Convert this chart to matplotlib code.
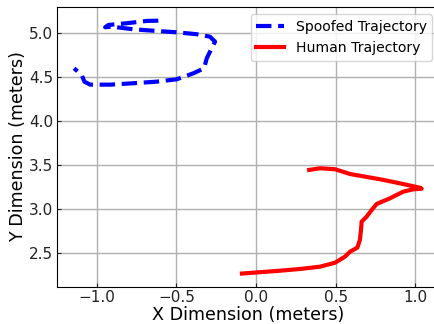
import numpy as np
import matplotlib
matplotlib.use("Agg")
from matplotlib import pyplot as plt

# spoofed trajectory
spoof_x = [-0.613, -0.686, -0.811, -0.927, -0.947, -0.905, -0.770, -0.623, -0.498,
           -0.372, -0.289, -0.257, -0.278, -0.309, -0.326, -0.393, -0.498, -0.623,
           -0.770, -0.916, -1.041, -1.077, -1.094, -1.142]
spoof_y = [5.143, 5.140, 5.114, 5.094, 5.068, 5.075, 5.045, 5.026, 5.011,
           4.989, 4.961, 4.905, 4.830, 4.716, 4.602, 4.545, 4.477, 4.450,
           4.432, 4.416, 4.416, 4.450, 4.526, 4.602]

# human trajectory
human_x = [0.334, 0.402, 0.496, 0.590, 0.778, 0.903, 1.029, 1.040, 0.987, 0.924,
           0.841, 0.757, 0.726, 0.694, 0.663, 0.659, 0.652, 0.636, 0.590, 0.558,
           0.496, 0.402, 0.276, 0.151, -0.088]
human_y = [3.447, 3.466, 3.455, 3.401, 3.341, 3.295, 3.245, 3.234, 3.227, 3.200,
           3.125, 3.060, 2.992, 2.916, 2.859, 2.765, 2.651, 2.564, 2.518, 2.461,
           2.393, 2.348, 2.322, 2.302, 2.270]


def plotTrajectories():
    fig = plt.figure(figsize=(4.34, 3.24), dpi=100)
    ax = fig.add_axes([0.131, 0.115, 0.881, 0.8625])

    ax.plot(spoof_x, spoof_y, color='blue', linestyle='--', linewidth=3,
            label='Spoofed Trajectory')
    ax.plot(human_x, human_y, color='red', linewidth=3, label='Human Trajectory')

    ax.set_xlim(-1.25, 1.15)
    ax.set_ylim(2.12, 5.295)
    ax.set_xticks([-1.0, -0.5, 0.0, 0.5, 1.0])
    ax.set_yticks([2.5, 3.0, 3.5, 4.0, 4.5, 5.0])
    ax.grid(True, color='#b0b0b0', linewidth=1)
    ax.set_axisbelow(True)
    ax.tick_params(direction='in', labelsize=11, colors='#222222')
    ax.tick_params(length=3, pad=2.5)

    ax.set_xlabel('X Dimension (meters)', fontsize=12.6, labelpad=0.5)
    ax.set_ylabel('Y Dimension (meters)', fontsize=12.6)
    ax.yaxis.set_label_coords(-0.078, 0.5)
    ax.legend(loc='upper right', fontsize=10.1, borderaxespad=0.5)

    fig.savefig('out.png', dpi=100)


if __name__ == "__main__":
    plotTrajectories()
